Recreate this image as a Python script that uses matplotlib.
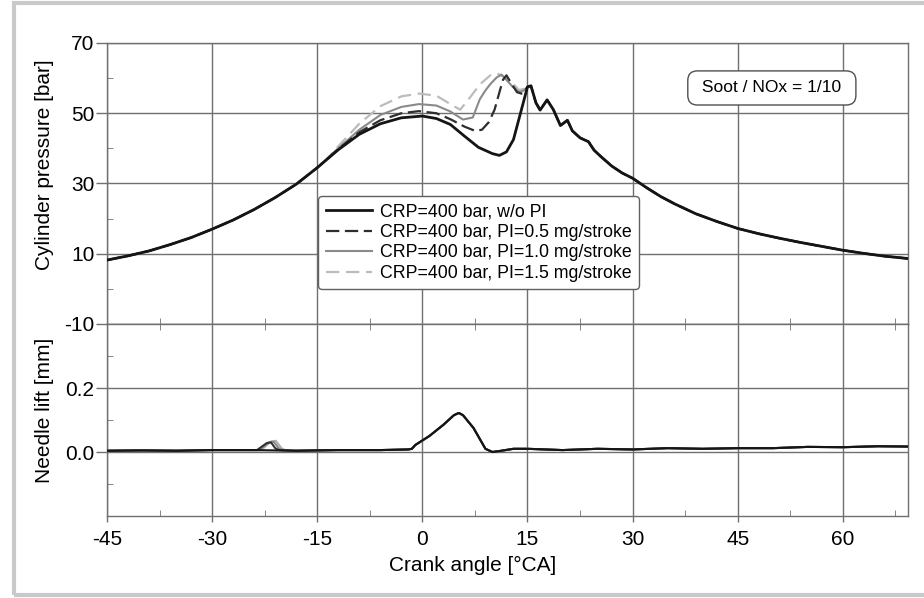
import numpy as np
import matplotlib
matplotlib.use("Agg")
import matplotlib.pyplot as plt
from matplotlib.patches import Rectangle
from matplotlib.ticker import MultipleLocator

plt.rcParams['font.family'] = ['Liberation Sans', 'DejaVu Sans']
plt.rcParams['axes.unicode_minus'] = False

# --- cylinder pressure [bar] ---
# common compression part (all four runs overlap)
ang_comp = [-45, -42, -39, -36, -33, -30, -27, -24, -21, -18, -15]
p_comp = [8.2, 9.4, 10.8, 12.6, 14.6, 17.0, 19.6, 22.6, 26.0, 29.8, 34.5]

# common expansion part
ang_exp = [15.5, 16.2, 16.8, 17.8, 18.7, 19.7, 20.7, 21.4, 22.5, 23.7, 24.5, 25.4,
           27, 28.5, 30, 32, 34, 36, 39, 42, 45, 48, 51, 54, 57, 60, 63, 66, 69.5]
p_exp = [57.8, 53.0, 50.9, 53.8, 51.0, 46.5, 48.0, 45.0, 43.0, 41.9, 39.5, 37.8,
         35.0, 33.0, 31.5, 28.8, 26.3, 24.2, 21.4, 19.2, 17.2, 15.7, 14.4, 13.2,
         12.1, 11.0, 10.1, 9.3, 8.6]

# combustion part, one per run
ang_mid_0 = [-12, -9, -6, -3, 0, 2, 4, 6, 8, 10, 11, 12, 13, 14, 15]
p_mid_0 = [39.6, 44.0, 47.0, 48.7, 49.2, 48.5, 46.8, 43.5, 40.3, 38.5, 38.0, 39.0, 42.5, 50.0, 57.5]

ang_mid_05 = [-12, -9, -6, -3, -0.5, 2, 4, 6, 7.5, 8.5, 9.5, 10.3, 11.0, 11.5, 12.0, 12.7, 13.5, 14.3, 15]
p_mid_05 = [39.8, 44.6, 48.0, 50.0, 50.6, 50.0, 48.3, 46.2, 45.0, 45.3, 47.5, 51.0, 56.0, 59.5, 60.8, 58.5, 56.0, 55.5, 57.5]

ang_mid_10 = [-12, -9, -6, -3, -0.5, 2, 4, 5.8, 7.2, 8.2, 9.0, 9.7, 10.6, 11.3, 12.0, 12.9, 13.8, 14.5, 15.2]
p_mid_10 = [40.0, 45.3, 49.5, 51.8, 52.6, 52.2, 50.5, 48.2, 48.8, 54.0, 56.5, 58.3, 60.2, 61.0, 59.5, 57.5, 56.0, 56.5, 57.8]

ang_mid_15 = [-13.5, -12, -9, -6, -3, -0.5, 2, 4, 5.4, 6.8, 8.2, 9.7, 10.6, 11.5, 12.9, 13.8, 14.6, 15.3]
p_mid_15 = [37.2, 40.6, 47.0, 52.0, 54.8, 55.6, 55.0, 52.6, 51.0, 54.5, 58.2, 60.8, 61.4, 60.5, 58.5, 56.6, 57.0, 57.8]

# --- needle lift [mm] ---
ang_lift_left = [-45, -40, -35, -30, -25, -24]
lift_left = [0.004, 0.005, 0.004, 0.006, 0.006, 0.006]

ang_pilot_05 = [-23.6, -22.2, -21.6, -21.0, -20.5]
lift_pilot_05 = [0.006, 0.028, 0.030, 0.012, 0.006]
ang_pilot_10 = [-23.3, -21.9, -21.2, -20.5, -20.0]
lift_pilot_10 = [0.006, 0.030, 0.032, 0.012, 0.006]
ang_pilot_15 = [-23.0, -21.6, -20.9, -20.1, -19.6]
lift_pilot_15 = [0.006, 0.033, 0.035, 0.012, 0.006]

ang_lift_main = [-18, -12, -6, -2, -1.5, -1.0, 1.0, 3.0, 4.5, 5.2, 5.8, 7.3, 9.0, 10.0, 11, 13,
                 15, 20, 25, 30, 35, 40, 45, 50, 55, 60, 65, 69.5]
lift_main = [0.004, 0.006, 0.006, 0.008, 0.010, 0.022, 0.050, 0.085, 0.115, 0.122, 0.115, 0.075,
             0.010, 0.000, 0.003, 0.010, 0.010, 0.006, 0.010, 0.008, 0.012, 0.010, 0.012, 0.012,
             0.016, 0.015, 0.018, 0.017]

labels = ["CRP=400 bar, w/o PI",
          "CRP=400 bar, PI=0.5 mg/stroke",
          "CRP=400 bar, PI=1.0 mg/stroke",
          "CRP=400 bar, PI=1.5 mg/stroke"]

# figure
fig = plt.figure(figsize=(9.24, 5.98), dpi=100)
fig.patches.append(Rectangle((14 / 924, 3 / 598), 1.0, 592 / 598, transform=fig.transFigure,
                             fill=False, edgecolor='#c9c9c9', lw=3, zorder=0))

ax1 = fig.add_axes([0.1158, 0.4582, 0.8669, 0.4699])
ax2 = fig.add_axes([0.1158, 0.1371, 0.8669, 0.3211], sharex=ax1)

grid_c = '#707070'
styles = [
    dict(color='#151515', lw=2.0, ls='-', zorder=5),
    dict(color='#2e2e2e', lw=1.6, ls=(0, (6, 2.5)), zorder=4),
    dict(color='#8a8a8a', lw=1.5, ls='-', zorder=3),
    dict(color='#bcbcbc', lw=1.6, ls=(0, (6, 3)), zorder=2),
]
mids = [(ang_mid_0, p_mid_0), (ang_mid_05, p_mid_05), (ang_mid_10, p_mid_10), (ang_mid_15, p_mid_15)]

handles = []
for (am, pm), st, lab in zip(mids, styles, labels):
    a = ang_comp + am + ang_exp
    p = p_comp + pm + p_exp
    h, = ax1.plot(a, p, label=lab, **st)
    handles.append(h)

# needle lift traces
pilots = [([], []), (ang_pilot_05, lift_pilot_05), (ang_pilot_10, lift_pilot_10), (ang_pilot_15, lift_pilot_15)]
lift_cols = ['#151515', '#333333', '#8a8a8a', '#b0b0b0']
for (ap, lp), c, z in zip(pilots[::-1], lift_cols[::-1], [2, 3, 4, 5]):
    a = ang_lift_left + ap + ang_lift_main
    l = lift_left + lp + lift_main
    ax2.plot(a, l, color=c, lw=1.5, zorder=z)

# axes setup
ax1.set_xlim(-45, 69.3)
ax1.set_ylim(-10, 70)
ax1.set_yticks([-10, 10, 30, 50, 70])
ax1.yaxis.set_minor_locator(MultipleLocator(10))
ax2.set_ylim(-0.2, 0.4)
ax2.set_yticks([0.0, 0.2])
ax2.set_yticklabels(["0.0", "0.2"])
ax2.yaxis.set_minor_locator(MultipleLocator(0.1))
ax2.set_xticks([-45, -30, -15, 0, 15, 30, 45, 60])
ax2.xaxis.set_minor_locator(MultipleLocator(7.5))

for ax in (ax1, ax2):
    ax.grid(True, which='major', color=grid_c, lw=1.0)
    ax.set_axisbelow(True)
    for s in ax.spines.values():
        s.set_color(grid_c)
        s.set_linewidth(1.0)
    ax.tick_params(axis='y', which='major', direction='out', length=8, width=1,
                   color=grid_c, labelsize=15, pad=1)
    ax.tick_params(axis='y', which='minor', direction='in', length=4, color=grid_c)
    ax.tick_params(axis='x', which='major', direction='out', length=4, width=1,
                   color=grid_c, labelsize=15, pad=6)
    ax.tick_params(axis='x', which='minor', direction='in', length=4, color=grid_c,
                   top=True, bottom=True)
ax1.tick_params(axis='x', which='both', labelbottom=False, length=0)
ax1.tick_params(axis='x', which='minor', length=4, direction='in', top=False, bottom=True)

ax1.set_ylabel("Cylinder pressure [bar]", fontsize=15)
ax1.yaxis.set_label_coords(-0.066, 0.566)
ax2.set_ylabel("Needle lift [mm]", fontsize=15)
ax2.yaxis.set_label_coords(-0.066, 0.552)
ax2.set_xlabel("Crank angle [°CA]", fontsize=15)
ax2.xaxis.set_label_coords(0.456, -0.21)

leg = ax1.legend(handles=handles, loc='upper left', bbox_to_anchor=(0.264, 0.455),
                 fontsize=12.8, handlelength=2.6, handletextpad=0.45, labelspacing=0.2,
                 borderpad=0.4, borderaxespad=0, fancybox=True, framealpha=1)
leg.get_frame().set_edgecolor('#606060')
leg.get_frame().set_linewidth(1.0)
leg.set_zorder(10)

ax1.text(0.83, 0.84, " Soot / NOx = 1/10 ", transform=ax1.transAxes, fontsize=12.5,
         ha='center', va='center', zorder=10,
         bbox=dict(boxstyle='round,pad=0.55', fc='white', ec='#505050', lw=1.0))

fig.savefig("out.png", dpi=100)
